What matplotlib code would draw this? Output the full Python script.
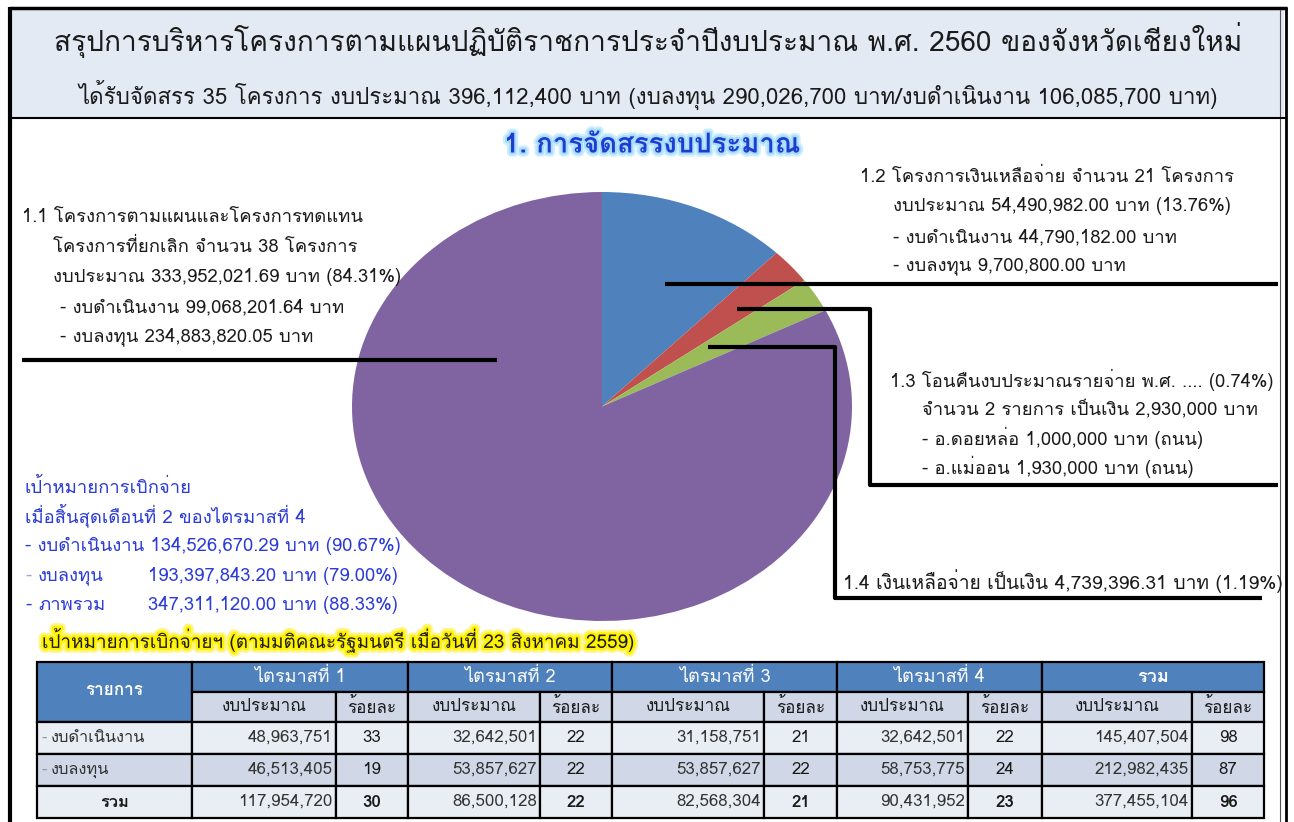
import matplotlib
matplotlib.use('Agg')
import matplotlib.pyplot as plt
from matplotlib import font_manager
from matplotlib.ft2font import FT2Font
import matplotlib.patheffects as pe
from matplotlib.patches import Rectangle

# ---------------- fonts ----------------
def thai_fonts():
    out = []
    seen = set()
    for f in font_manager.fontManager.ttflist:
        if f.name in seen:
            continue
        try:
            cm = FT2Font(f.fname).get_charmap()
        except Exception:
            continue
        if 0x0E01 in cm and 0x0E33 in cm:
            out.append(f.name)
            seen.add(f.name)
    return out

found = thai_fonts()
pref = ['Tahoma', 'Loma', 'Garuda', 'Noto Sans Thai', 'Noto Sans Thai UI', 'Sarabun', 'Laksaman',
        'TH Sarabun New', 'Umpush', 'Waree', 'Kinnari', 'Norasi', 'Sawasdee']
thai = None
for p in pref:
    if p in found:
        thai = p
        break
if thai is None and found:
    thai = found[0]
FAM = ([thai] if thai else []) + ['DejaVu Sans']
plt.rcParams['font.family'] = FAM

# ---------------- data ----------------
pie_names = ['1.2 เงินเหลือจ่าย', '1.3 โอนคืน', '1.4 เงินเหลือจ่าย', '1.1 ตามแผน']
pie_values = [12.3, 2.7, 2.6, 82.4]
pie_colors = ['#4F81BD', '#C0504D', '#9BBB59', '#8064A2']

quarters = ['ไตรมาสที่ 1', 'ไตรมาสที่ 2', 'ไตรมาสที่ 3', 'ไตรมาสที่ 4', 'รวม']
row_labels = ['- งบดำเนินงาน', '- งบลงทุน', 'รวม']
budget_op = [48963751, 32642501, 31158751, 32642501, 145407504]
pct_op = [33, 22, 21, 22, 98]
budget_inv = [46513405, 53857627, 53857627, 58753775, 212982435]
pct_inv = [19, 22, 22, 24, 87]
budget_tot = [117954720, 86500128, 82568304, 90431952, 377455104]
pct_tot = [30, 22, 21, 23, 96]

title1 = 'สรุปการบริหารโครงการตามแผนปฏิบัติราชการประจำปีงบประมาณ พ.ศ. 2560 ของจังหวัดเชียงใหม่'
title2 = 'ได้รับจัดสรร 35 โครงการ งบประมาณ 396,112,400 บาท (งบลงทุน 290,026,700 บาท/งบดำเนินงาน 106,085,700 บาท)'
section = '1. การจัดสรรงบประมาณ'
block11 = ['1.1 โครงการตามแผนและโครงการทดแทน',
           'โครงการที่ยกเลิก จำนวน 38 โครงการ',
           'งบประมาณ 333,952,021.69 บาท (84.31%)',
           '- งบดำเนินงาน 99,068,201.64 บาท',
           '- งบลงทุน 234,883,820.05 บาท']
block12 = ['1.2 โครงการเงินเหลือจ่าย จำนวน 21 โครงการ',
           'งบประมาณ 54,490,982.00 บาท (13.76%)',
           '- งบดำเนินงาน 44,790,182.00 บาท',
           '- งบลงทุน 9,700,800.00 บาท']
block13 = ['1.3 โอนคืนงบประมาณรายจ่าย พ.ศ. .... (0.74%)',
           'จำนวน 2 รายการ เป็นเงิน 2,930,000 บาท',
           '- อ.ดอยหล่อ 1,000,000 บาท (ถนน)',
           '- อ.แม่ออน 1,930,000 บาท (ถนน)']
block14 = '1.4 เงินเหลือจ่าย เป็นเงิน 4,739,396.31 บาท (1.19%)'
target_lines = ['เป้าหมายการเบิกจ่าย', 'เมื่อสิ้นสุดเดือนที่ 2 ของไตรมาสที่ 4',
                '- งบดำเนินงาน 134,526,670.29 บาท (90.67%)']
target_labels = ['งบลงทุน', 'ภาพรวม']
target_values = ['193,397,843.20 บาท (79.00%)', '347,311,120.00 บาท (88.33%)']
highlight = 'เป้าหมายการเบิกจ่ายฯ (ตามมติคณะรัฐมนตรี เมื่อวันที่ 23 สิงหาคม 2559)'

# ---------------- figure ----------------
W, H = 1294, 822
fig = plt.figure(figsize=(W / 100, H / 100), dpi=100)
fig.patch.set_facecolor('white')

# pie (elliptical, as in reference)
cx, cy, rx, ry = 602, 406.5, 250, 214.5
pax = fig.add_axes([(cx - rx) / W, 1 - (cy + ry) / H, 2 * rx / W, 2 * ry / H])
pax.pie(pie_values, colors=pie_colors, startangle=90, counterclock=False,
        wedgeprops=dict(linewidth=0))
pax.set_aspect('auto')
pax.set_xlim(-1, 1)
pax.set_ylim(-1, 1)
pax.axis('off')

ax = fig.add_axes([0, 0, 1, 1])
ax.set_xlim(0, W)
ax.set_ylim(H, 0)
ax.axis('off')
ax.patch.set_alpha(0)

# header
ax.add_patch(Rectangle((12, 10), 1272, 108, facecolor='#E4EAF4', edgecolor='none', zorder=0))
ax.plot([10, 10], [7, H], color='black', lw=3.0, solid_capstyle='butt')
ax.plot([9, 1287], [8.5, 8.5], color='black', lw=2.5, solid_capstyle='butt')
ax.plot([1286, 1286], [7, H], color='black', lw=2.0, solid_capstyle='butt')
ax.plot([1280, 1280], [10, H], color='#555555', lw=0.8)
ax.plot([10, 1286], [118.5, 118.5], color='black', lw=1.5)

ax.text(648, 40, title1, fontsize=20.2, color='#1a1a1a', ha='center', va='center')
ax.text(648, 95, title2, fontsize=16, color='#1a1a1a', ha='center', va='center')

ax.text(652, 145, section, fontsize=19.8, color='#1E3DD0', ha='center', va='center', fontweight='bold',
        path_effects=[pe.Stroke(linewidth=6, foreground='#CDEEFF'),
                      pe.Stroke(linewidth=3, foreground='#A8DDFF'), pe.Normal()])

fs = 13.3
def block(lines, xs, ys, color='#1a1a1a'):
    for t, x, y in zip(lines, xs, ys):
        ax.text(x, y, t, fontsize=fs, color=color, ha='left', va='center')

block(block11, [22, 53, 53, 60, 60], [217, 247, 277, 307, 337])
block(block12, [860, 893, 893, 893], [177, 206, 237, 266])
block(block13, [890, 922, 922, 922], [380, 410, 438, 467])
ax.text(843, 581, block14, fontsize=13.8, color='#1a1a1a', ha='left', va='center')

blue = '#2B3BD6'
block(target_lines, [25, 25, 25], [487, 515, 546], color=blue)
for lab, val, y, dc in zip(target_labels, target_values, [576, 605], ['#9AA8D8', blue]):
    ax.text(25, y, '-', fontsize=fs, color=dc, ha='left', va='center')
    ax.text(38, y, lab, fontsize=fs, color=blue, ha='left', va='center')
    ax.text(148, y, val, fontsize=fs, color=blue, ha='left', va='center')

ax.text(42, 640, highlight, fontsize=13.6, color='#1a1a1a', ha='left', va='center',
        path_effects=[pe.Stroke(linewidth=7, foreground='#FFF685'),
                      pe.Stroke(linewidth=3.5, foreground='#FFF200'), pe.Normal()])

# leader lines
lw = 3.0
ax.plot([22, 497], [360, 360], color='black', lw=lw, solid_capstyle='butt')
ax.plot([665, 1278], [284, 284], color='black', lw=lw, solid_capstyle='butt')
ax.plot([737, 870, 870, 1278], [309, 309, 485, 485], color='black', lw=lw, solid_capstyle='butt')
ax.plot([708, 835, 835, 1262], [347, 347, 598, 598], color='black', lw=lw, solid_capstyle='butt')

# ---------------- table ----------------
xe = [37, 192, 336, 408, 540, 612, 764, 837, 968, 1042, 1192, 1264]
ye = [662, 692, 722, 754, 786, 818]
hdr = '#4F81BD'
light = '#E9EDF4'
mid = '#D0D8E8'
tfs = 11.8

def cell(x0, x1, y0, y1, fc):
    ax.add_patch(Rectangle((x0, y0), x1 - x0, y1 - y0, facecolor=fc, edgecolor='black', lw=1.6, zorder=2))

cell(xe[0], xe[1], ye[0], ye[2], hdr)
ax.text((xe[0] + xe[1]) / 2, (ye[0] + ye[2]) / 2 - 2, 'รายการ', fontsize=tfs + 0.5, color='white',
        ha='center', va='center', fontweight='bold', zorder=3)
for i, q in enumerate(quarters):
    a, b, c = xe[1 + 2 * i], xe[2 + 2 * i], xe[3 + 2 * i]
    cell(a, c, ye[0], ye[1], hdr)
    ax.text((a + c) / 2, (ye[0] + ye[1]) / 2, q, fontsize=tfs + 1.2, color='white', ha='center', va='center',
            fontweight='bold' if i == 4 else 'normal', zorder=3)
    cell(a, b, ye[1], ye[2], mid)
    cell(b, c, ye[1], ye[2], mid)
    ax.text((a + b) / 2, (ye[1] + ye[2]) / 2, 'งบประมาณ', fontsize=tfs + 0.5, color='#1a1a1a',
            ha='center', va='center', zorder=3)
    ax.text((b + c) / 2, (ye[1] + ye[2]) / 2, 'ร้อยละ', fontsize=tfs + 0.5, color='#1a1a1a',
            ha='center', va='center', zorder=3)

rows = [(budget_op, pct_op, light), (budget_inv, pct_inv, mid), (budget_tot, pct_tot, light)]
for r, (bud, pct, fc) in enumerate(rows):
    y0, y1 = ye[2 + r], ye[3 + r]
    ym = (y0 + y1) / 2
    cell(xe[0], xe[1], y0, y1, fc)
    if r < 2:
        ax.text(xe[0] + 4, ym, '-', fontsize=tfs, color='#9A9A9A', ha='left', va='center', zorder=3)
        ax.text(xe[0] + 14, ym, row_labels[r][2:], fontsize=tfs, color='#333333', ha='left', va='center',
                zorder=3)
    else:
        ax.text((xe[0] + xe[1]) / 2, ym, row_labels[r], fontsize=tfs, color='#1a1a1a', ha='center',
                va='center', fontweight='bold', zorder=3)
    for i in range(5):
        a, b, c = xe[1 + 2 * i], xe[2 + 2 * i], xe[3 + 2 * i]
        cell(a, b, y0, y1, fc)
        cell(b, c, y0, y1, fc)
        ax.text(b - 3, ym, f'{bud[i]:,}', fontsize=tfs + 0.4, color='#333333', ha='right', va='center',
                zorder=3)
        ax.text((b + c) / 2, ym, f'{pct[i]}', fontsize=tfs + 0.4, color='#1a1a1a', ha='center',
                va='center', fontweight='bold' if r == 2 else 'normal', zorder=3)

fig.savefig('out.png', dpi=100)
